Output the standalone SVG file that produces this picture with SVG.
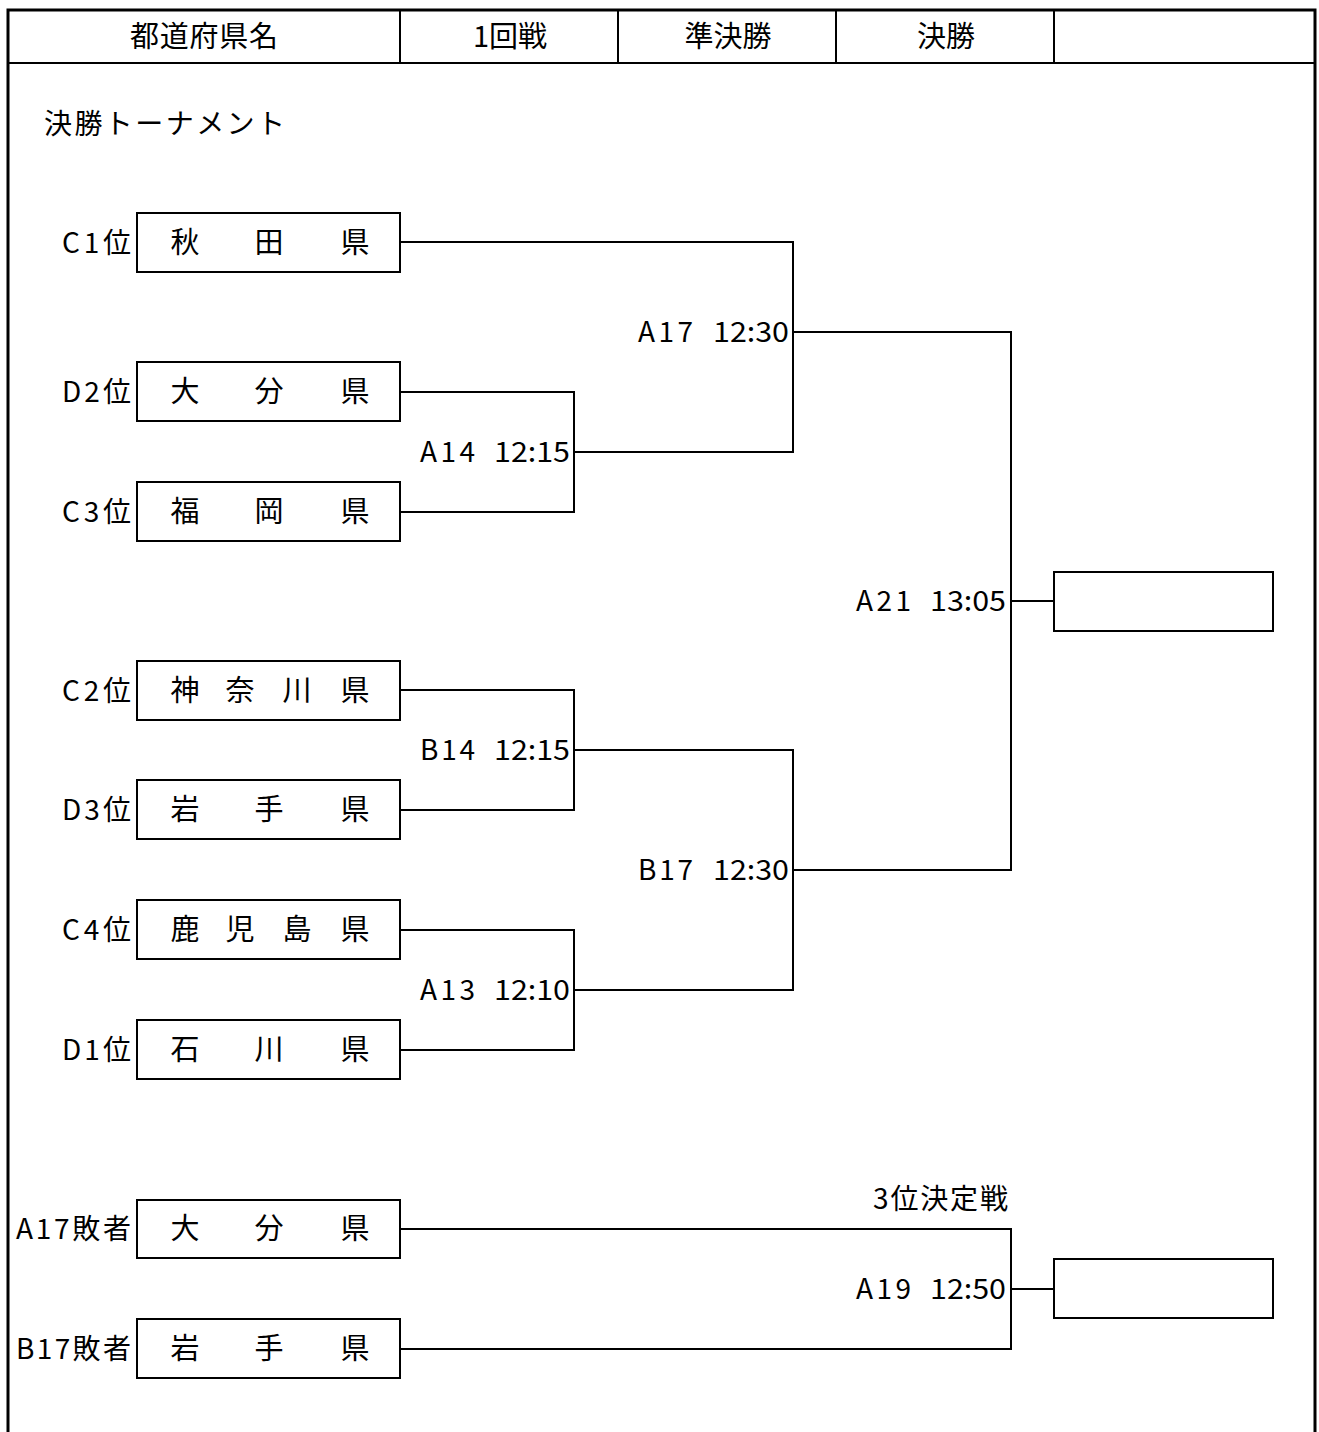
<svg xmlns="http://www.w3.org/2000/svg" width="1319" height="1432" viewBox="0 0 1319 1432">
<style>
text{font-family:"Noto Sans CJK JP","Noto Sans",sans-serif;fill:#000}
.h{font-size:29px;text-anchor:middle}
.t{font-size:28px}
.n{font-size:29px;text-anchor:middle}
.s{font-size:28px;text-anchor:end}
.m{font-size:28px}
.box{fill:#fff;stroke:#000;stroke-width:2}
.ln{fill:none;stroke:#000;stroke-width:2}
.fr{fill:none;stroke:#000;stroke-width:3}
</style>
<rect width="1319" height="1432" fill="#fff"/>
<g id="frame">
<path class="fr" d="M8 1432V10H1315V1432"/>
<path class="ln" d="M8 63H1315M400 10V63M618 10V63M836 10V63M1054 10V63"/>
<text class="h" x="204" y="47" textLength="148" lengthAdjust="spacing">都道府県名</text>
<text class="h" x="510" y="47">1回戦</text>
<text class="h" x="728" y="47">準決勝</text>
<text class="h" x="946" y="47">決勝</text>
<text class="t" x="44" y="134" textLength="241" lengthAdjust="spacing">決勝トーナメント</text>
</g>
<g id="connectors">
<path class="ln" d="M400 242H793V452H574M400 392H574V512H400M793 332H1011V870H793M1011 601H1054"/>
<path class="ln" d="M400 690H574V810H400M574 750H793V990H574M400 930H574V1050H400"/>
<path class="ln" d="M400 1229H1011V1349H400M1011 1289H1054"/>
</g>
<g id="n-akita"><rect class="box" x="137" y="213" width="263" height="59"/><text class="n" x="185 269 355" y="253">秋田県</text><text class="s" x="131" y="253" textLength="69" lengthAdjust="spacing">C1位</text></g>
<g id="n-oita"><rect class="box" x="137" y="362" width="263" height="59"/><text class="n" x="185 269 355" y="402">大分県</text><text class="s" x="131" y="402" textLength="69" lengthAdjust="spacing">D2位</text></g>
<g id="n-fukuoka"><rect class="box" x="137" y="482" width="263" height="59"/><text class="n" x="185 269 355" y="522">福岡県</text><text class="s" x="131" y="522" textLength="69" lengthAdjust="spacing">C3位</text></g>
<g id="n-kanagawa"><rect class="box" x="137" y="661" width="263" height="59"/><text class="n" x="185 240 297 355" y="701">神奈川県</text><text class="s" x="131" y="701" textLength="69" lengthAdjust="spacing">C2位</text></g>
<g id="n-iwate"><rect class="box" x="137" y="780" width="263" height="59"/><text class="n" x="185 269 355" y="820">岩手県</text><text class="s" x="131" y="820" textLength="69" lengthAdjust="spacing">D3位</text></g>
<g id="n-kagoshima"><rect class="box" x="137" y="900" width="263" height="59"/><text class="n" x="185 240 297 355" y="940">鹿児島県</text><text class="s" x="131" y="940" textLength="69" lengthAdjust="spacing">C4位</text></g>
<g id="n-ishikawa"><rect class="box" x="137" y="1020" width="263" height="59"/><text class="n" x="185 269 355" y="1060">石川県</text><text class="s" x="131" y="1060" textLength="69" lengthAdjust="spacing">D1位</text></g>
<g id="n-oita2"><rect class="box" x="137" y="1200" width="263" height="58"/><text class="n" x="185 269 355" y="1239">大分県</text><text class="s" x="131" y="1239" textLength="115" lengthAdjust="spacing">A17敗者</text></g>
<g id="n-iwate2"><rect class="box" x="137" y="1319" width="263" height="59"/><text class="n" x="185 269 355" y="1359">岩手県</text><text class="s" x="131" y="1359" textLength="115" lengthAdjust="spacing">B17敗者</text></g>
<g id="n-winner"><rect class="box" x="1054" y="572" width="219" height="59"/></g>
<g id="n-third"><rect class="box" x="1054" y="1259" width="219" height="59"/></g>
<g id="labels">
<text class="m" x="638" y="342" textLength="55" lengthAdjust="spacing">A17</text><text class="m" x="713" y="342" textLength="76" lengthAdjust="spacingAndGlyphs">12:30</text>
<text class="m" x="420" y="462" textLength="55" lengthAdjust="spacing">A14</text><text class="m" x="494" y="462" textLength="76" lengthAdjust="spacingAndGlyphs">12:15</text>
<text class="m" x="420" y="760" textLength="55" lengthAdjust="spacing">B14</text><text class="m" x="494" y="760" textLength="76" lengthAdjust="spacingAndGlyphs">12:15</text>
<text class="m" x="638" y="880" textLength="55" lengthAdjust="spacing">B17</text><text class="m" x="713" y="880" textLength="76" lengthAdjust="spacingAndGlyphs">12:30</text>
<text class="m" x="420" y="1000" textLength="55" lengthAdjust="spacing">A13</text><text class="m" x="494" y="1000" textLength="76" lengthAdjust="spacingAndGlyphs">12:10</text>
<text class="m" x="856" y="611" textLength="55" lengthAdjust="spacing">A21</text><text class="m" x="930" y="611" textLength="76" lengthAdjust="spacingAndGlyphs">13:05</text>
<text class="m" x="856" y="1299" textLength="55" lengthAdjust="spacing">A19</text><text class="m" x="930" y="1299" textLength="76" lengthAdjust="spacingAndGlyphs">12:50</text>
<text class="m" x="873" y="1209" textLength="135" lengthAdjust="spacing">3位決定戦</text>
</g>
</svg>
